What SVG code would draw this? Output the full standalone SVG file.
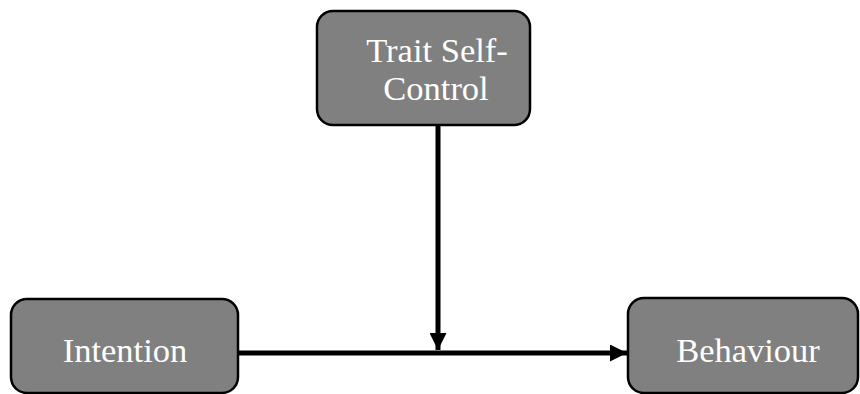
<svg xmlns="http://www.w3.org/2000/svg" width="860" height="394" viewBox="0 0 860 394">
<style>
.box{fill:#808080;stroke:#000;stroke-width:2.5}
.lbl{font-family:"Liberation Serif","Times New Roman",serif;font-size:34.5px;fill:#fff;text-anchor:middle}
.conn{stroke:#000;stroke-width:5;fill:none}
</style>
<defs>
<marker id="arr" viewBox="0 0 10 10" refX="10" refY="5" markerWidth="3.4" markerHeight="3.4" markerUnits="strokeWidth" orient="auto">
<path d="M0,0 L10,5 L0,10 Z" fill="#000"/>
</marker>
</defs>
<rect width="860" height="394" fill="#fff"/>
<g id="node-trait">
<rect class="box" x="317" y="11" width="213" height="114" rx="16"/>
<text class="lbl" x="437" y="62">Trait Self-</text>
<text class="lbl" x="436" y="100">Control</text>
</g>
<g id="node-intention">
<rect class="box" x="11" y="299" width="227" height="94" rx="16"/>
<text class="lbl" x="125" y="362">Intention</text>
</g>
<g id="node-behaviour">
<rect class="box" x="628" y="298" width="230" height="95" rx="16"/>
<text class="lbl" x="748" y="362">Behaviour</text>
</g>
<g id="connectors">
<line class="conn" x1="237" y1="353" x2="627" y2="353" marker-end="url(#arr)"/>
<line class="conn" x1="438" y1="126" x2="438" y2="350" marker-end="url(#arr)"/>
</g>
</svg>
